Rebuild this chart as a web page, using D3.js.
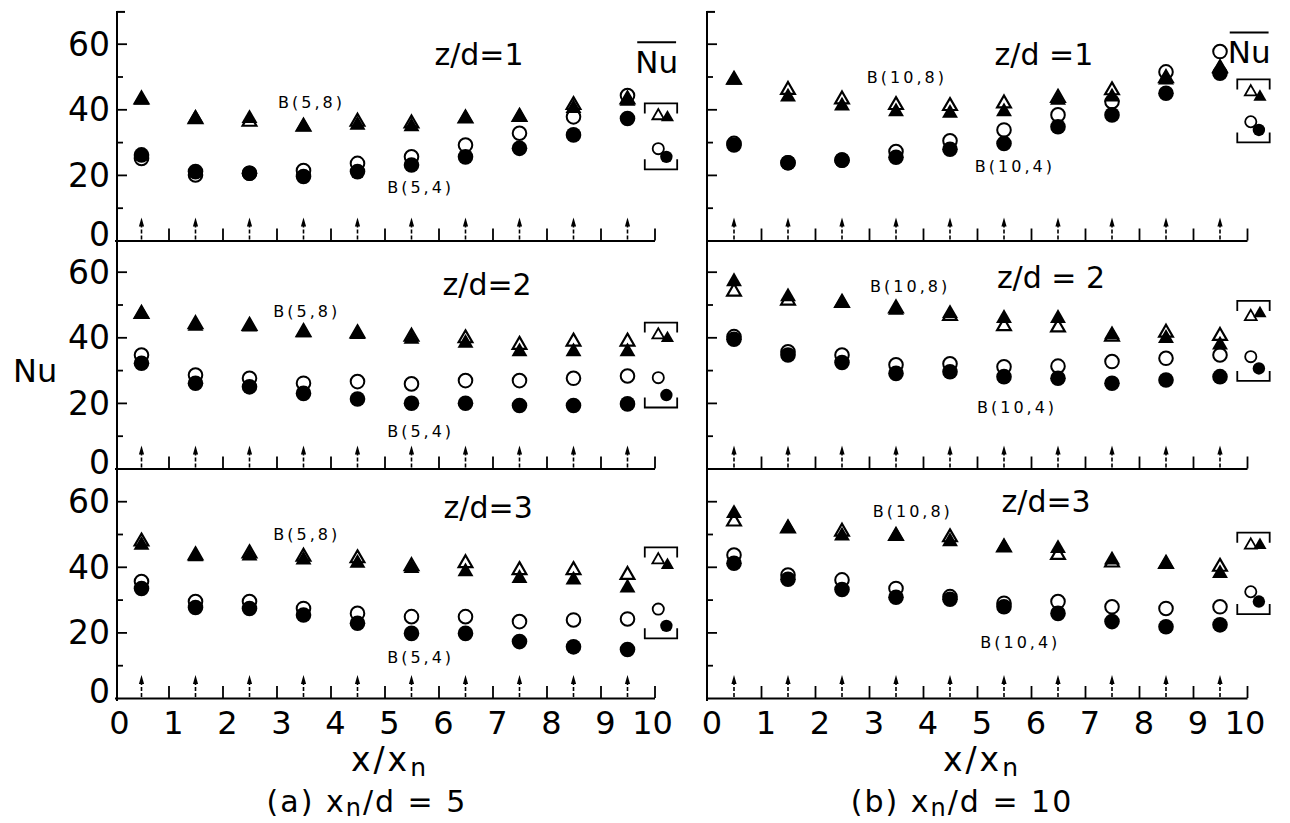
<!DOCTYPE html>
<html><head><meta charset="utf-8">
<script src="https://cdn.jsdelivr.net/npm/d3@7"></script>
<style>
body{margin:0;background:#fff}
svg{display:block}
text{font-family:"DejaVu Sans",sans-serif;fill:#000}
</style>
</head><body>
<svg id="c" width="1290" height="823"></svg>
<script>
// ---------------- data ----------------
const xPositions = [0.5, 1.5, 2.5, 3.5, 4.5, 5.5, 6.5, 7.5, 8.5, 9.5];
const xTickLabels = [0, 1, 2, 3, 4, 5, 6, 7, 8, 9, 10];
const yTickLabels = [0, 20, 40, 60];
const yMinorTicks = [10, 30, 50];

// (a) xn/d = 5
const a1OpenTri  = [43, 37, 36.2, 34.7, 36.2, 35.7, 37.2, 37.7, 41.3, 43];
const a1FillTri  = [42.8, 37.2, 37.2, 34.7, 35.2, 34.7, 37.2, 37.7, 40.3, 42.5];
const a1OpenCirc = [25, 20, 20.5, 21.3, 23.5, 25.5, 29.1, 32.7, 37.7, 44.2];
const a1FillCirc = [26.1, 21, 20.5, 19.5, 21, 23, 25.5, 28.1, 32.2, 37.2];
const a1NuBar    = [38, 37.5, 28, 25.5]; // open tri, filled tri, open circ, filled circ

const a2OpenTri  = [47.1, 44, 43.5, 41.6, 41.2, 40.2, 39.7, 37.7, 38.7, 38.7];
const a2FillTri  = [47.1, 43.4, 43.2, 41.4, 40.9, 39.4, 38.2, 35.6, 35.6, 35.6];
const a2OpenCirc = [34.6, 28.5, 27.5, 26, 26.5, 25.8, 26.8, 26.8, 27.5, 28.2];
const a2FillCirc = [32.1, 26, 24.9, 22.9, 21.2, 19.9, 19.9, 19.2, 19.2, 19.7];
const a2NuBar    = [40.7, 39.7, 27.7, 22.4];

const a3OpenTri  = [47.7, 43.5, 44.1, 43.1, 42.6, 40.2, 41.1, 39, 39, 37.5];
const a3FillTri  = [46.6, 43.1, 43.3, 42.1, 41.1, 39.5, 38.5, 36.5, 36, 33.6];
const a3OpenCirc = [35.5, 29.4, 29.4, 27.3, 25.8, 24.8, 24.8, 23.3, 23.8, 24.1];
const a3FillCirc = [33.4, 27.6, 27.3, 25.3, 22.8, 19.7, 19.7, 17.2, 15.6, 14.8];
const a3NuBar    = [42.1, 40.5, 27.1, 22];

// (b) xn/d = 10
const b1OpenTri  = [49, 45.9, 43, 41.3, 41, 41.8, 43.5, 45.8, 49.5, 52.5];
const b1FillTri  = [48.9, 43.8, 41, 39.3, 38.8, 39.3, 42.8, 43.8, 49, 52.5];
const b1OpenCirc = [29.6, 23.7, 24.5, 27.1, 30.4, 33.7, 38.3, 42.3, 51.4, 57.6];
const b1FillCirc = [29.1, 23.7, 24.5, 25.4, 27.8, 29.6, 34.7, 38.3, 44.9, 51];
const b1NuBar    = [45.3, 43.8, 36.2, 33.7];

const b2OpenTri  = [53.9, 51.2, 50.5, 48.8, 46.5, 43.4, 43, 40.2, 41.4, 40.4];
const b2FillTri  = [57, 52.4, 50.5, 48.3, 47.3, 45.8, 45.8, 40.8, 39.7, 37.7];
const b2OpenCirc = [40.2, 35.6, 34.6, 31.6, 31.9, 31, 31.2, 32.6, 33.6, 34.6];
const b2FillCirc = [39.4, 34.6, 32.3, 29, 29.5, 28, 27.5, 26, 27, 28];
const b2NuBar    = [46.3, 47.3, 34.1, 30.5];

const b3OpenTri  = [53.8, 51.7, 50.7, 49.4, 49, 45.9, 43.6, 41.3, 40.9, 40];
const b3FillTri  = [56.3, 51.7, 49.4, 49.4, 47.7, 45.9, 45.6, 42.1, 40.9, 38];
const b3OpenCirc = [43.6, 37.5, 36, 33.4, 30.9, 28.9, 29.4, 27.8, 27.3, 27.8];
const b3FillCirc = [41.1, 36.2, 33.1, 30.7, 30.1, 27.8, 25.8, 23.3, 21.7, 22.3];
const b3NuBar    = [46.6, 46.6, 32.4, 29.4];

const panelTitles = ["z/d=1", "z/d=2", "z/d=3", "z/d =1", "z/d = 2", "z/d=3"];
const upperLabels = ["B(5,8)", "B(5,8)", "B(5,8)", "B(10,8)", "B(10,8)", "B(10,8)"];
const lowerLabels = ["B(5,4)", "B(5,4)", "B(5,4)", "B(10,4)", "B(10,4)", "B(10,4)"];

// ---------------- layout ----------------
const svg = d3.select("#c");
const colX0 = [114.5, 707];
const axisX = [117, 707];
const rowBase = [240.5, 468.5, 698];
const pxX = 54, pxY = 3.28;

// annotation anchors (data units): title [x, y], upper label, lower label
const annot = [
  {t:[6.75,53.5], u:[3.03,40.4], l:[5.05,14.5]},
  {t:[6.9,52.9],  u:[2.94,46.2], l:[5.05,9.6]},
  {t:[6.92,54.9], u:[2.94,48.2], l:[5.05,10.7]},
  {t:[6.24,53.5], u:[2.96,48.0], l:[4.96,20.9]},
  {t:[6.37,55.0], u:[3.02,53.8], l:[5.0,16.9]},
  {t:[6.28,56.7], u:[3.07,55.2], l:[5.06,15.2]}
];

const panels = [
  {col:0,row:0, ot:a1OpenTri, ft:a1FillTri, oc:a1OpenCirc, fc:a1FillCirc, nb:a1NuBar},
  {col:0,row:1, ot:a2OpenTri, ft:a2FillTri, oc:a2OpenCirc, fc:a2FillCirc, nb:a2NuBar},
  {col:0,row:2, ot:a3OpenTri, ft:a3FillTri, oc:a3OpenCirc, fc:a3FillCirc, nb:a3NuBar},
  {col:1,row:0, ot:b1OpenTri, ft:b1FillTri, oc:b1OpenCirc, fc:b1FillCirc, nb:b1NuBar},
  {col:1,row:1, ot:b2OpenTri, ft:b2FillTri, oc:b2OpenCirc, fc:b2FillCirc, nb:b2NuBar},
  {col:1,row:2, ot:b3OpenTri, ft:b3FillTri, oc:b3OpenCirc, fc:b3FillCirc, nb:b3NuBar}
];

const triBig = d3.symbol().type(d3.symbolTriangle).size(110)();
const triOpen = d3.symbol().type(d3.symbolTriangle).size(82)();
const triNb = d3.symbol().type(d3.symbolTriangle).size(75)();
const triNbOpen = d3.symbol().type(d3.symbolTriangle).size(60)();

// continuous vertical axes per column
[0,1].forEach(c => {
  const yTop = rowBase[0] - 70*pxY;
  svg.append("line").attr("x1",axisX[c]).attr("x2",axisX[c])
     .attr("y1",yTop).attr("y2",rowBase[2]+3)
     .attr("stroke","#000").attr("stroke-width",2);
  svg.append("line").attr("x1",axisX[c]).attr("x2",axisX[c]+8)
     .attr("y1",yTop+1).attr("y2",yTop+1)
     .attr("stroke","#000").attr("stroke-width",2);
});

panels.forEach((p, i) => {
  const x0 = colX0[p.col], base = rowBase[p.row];
  const x = d3.scaleLinear().domain([0,10]).range([x0, x0 + 10*pxX]);
  const y = d3.scaleLinear().domain([0,60]).range([base, base - 60*pxY]);
  const g = svg.append("g");

  // x axis (ticks upward, inside)
  const xa = g.append("g").attr("transform",`translate(0,${base})`)
    .call(d3.axisTop(x).tickValues(d3.range(1,11)).tickSize(12).tickSizeOuter(0).tickFormat(""));
  xa.select(".domain").attr("stroke-width",2);
  xa.selectAll(".tick line").attr("stroke-width",1.8);

  // y axis ticks (inward)
  const ya = g.append("g").attr("transform",`translate(${axisX[p.col]},0)`)
    .call(d3.axisRight(y).tickValues([20,40,60]).tickSize(10).tickFormat(""));
  ya.select(".domain").remove();
  ya.selectAll(".tick line").attr("stroke-width",1.8);
  const ym = g.append("g").attr("transform",`translate(${axisX[p.col]},0)`)
    .call(d3.axisRight(y).tickValues(yMinorTicks).tickSize(6).tickFormat(""));
  ym.select(".domain").remove();
  ym.selectAll(".tick line").attr("stroke-width",1.8);

  if (p.col === 0) {
    g.selectAll(".ylab").data(yTickLabels).enter().append("text")
      .attr("x", 110).attr("y", d => y(d) + (d === 0 ? 5 : 12))
      .attr("text-anchor","end").attr("font-size",33).text(d => d);
  }

  // arrows at jet positions
  xPositions.forEach(xv => {
    const ax = x(xv);
    g.append("line").attr("x1",ax).attr("x2",ax).attr("y1",base-1).attr("y2",base-15)
      .attr("stroke","#000").attr("stroke-width",1.6).attr("stroke-dasharray","4,2");
    g.append("path").attr("d",`M${ax},${base-23}L${ax-2.6},${base-14}L${ax+2.6},${base-14}Z`).attr("fill","#000");
  });

  // markers
  g.selectAll(".oc").data(p.oc).enter().append("circle")
    .attr("cx",(d,j)=>x(xPositions[j])).attr("cy",d=>y(d)).attr("r",6.8)
    .attr("fill","#fff").attr("stroke","#000").attr("stroke-width",2);
  g.selectAll(".ot").data(p.ot).enter().append("path")
    .attr("d",triOpen).attr("transform",(d,j)=>`translate(${x(xPositions[j])},${y(d)})`)
    .attr("fill","#fff").attr("stroke","#000").attr("stroke-width",2.2);
  g.selectAll(".fc").data(p.fc).enter().append("circle")
    .attr("cx",(d,j)=>x(xPositions[j])).attr("cy",d=>y(d)).attr("r",7.8).attr("fill","#000");
  g.selectAll(".ft").data(p.ft).enter().append("path")
    .attr("d",triBig).attr("transform",(d,j)=>`translate(${x(xPositions[j])},${y(d)})`)
    .attr("fill","#000");

  // Nu-bar group with brackets
  const [nbOT, nbFT, nbOC, nbFC] = p.nb;
  const bx1 = x(9.82), bx2 = x(10.42);
  const topB = y(Math.max(nbOT, nbFT) + 3.8), botB = y(Math.min(nbOC, nbFC) - 3.8);
  g.append("path").attr("d",`M${bx1},${topB+10}V${topB}H${bx2}V${topB+10}`)
    .attr("fill","none").attr("stroke","#000").attr("stroke-width",1.8);
  g.append("path").attr("d",`M${bx1},${botB-10}V${botB}H${bx2}V${botB-10}`)
    .attr("fill","none").attr("stroke","#000").attr("stroke-width",1.8);
  g.append("circle").attr("cx",x(10.07)).attr("cy",y(nbOC)).attr("r",5.6)
    .attr("fill","#fff").attr("stroke","#000").attr("stroke-width",1.8);
  g.append("circle").attr("cx",x(10.22)).attr("cy",y(nbFC)).attr("r",6.2).attr("fill","#000");
  g.append("path").attr("d",triNbOpen).attr("transform",`translate(${x(10.07)},${y(nbOT)})`)
    .attr("fill","#fff").attr("stroke","#000").attr("stroke-width",1.8);
  g.append("path").attr("d",triNb).attr("transform",`translate(${x(10.24)},${y(nbFT)})`)
    .attr("fill","#000");

  // annotations
  const a = annot[i];
  g.append("text").attr("x",x(a.t[0])).attr("y",y(a.t[1])).attr("text-anchor","middle")
    .attr("font-size",30).text(panelTitles[i]);
  g.append("text").attr("x",x(a.u[0])).attr("y",y(a.u[1])).attr("font-size",16)
    .attr("letter-spacing",3).text(upperLabels[i]);
  g.append("text").attr("x",x(a.l[0])).attr("y",y(a.l[1])).attr("font-size",16)
    .attr("letter-spacing",3).text(lowerLabels[i]);

  // Nu-bar header on top panels
  if (p.row === 0) {
    const hy = p.col === 0 ? y(51) : y(54);
    const t = g.append("text").attr("x",x(10.04)).attr("y",hy).attr("text-anchor","middle")
      .attr("font-size",31).text("Nu");
    const bb = t.node().getBBox();
    g.append("line").attr("x1",bb.x+2).attr("x2",bb.x+bb.width-2)
      .attr("y1",hy-31).attr("y2",hy-31).attr("stroke","#000").attr("stroke-width",2);
  }

  // x tick labels on bottom row
  if (p.row === 2) {
    g.selectAll(".xl").data(xTickLabels).enter().append("text")
      .attr("x", d => x(d) + (d === 10 ? -2 : 5)).attr("y", base + 36)
      .attr("text-anchor","middle").attr("font-size",32).text(d => d);
  }
});

// axis titles
svg.append("text").attr("x",13).attr("y",382).attr("font-size",32).text("Nu");

[[390,"(a)","5",367],[982,"(b)","10",962]].forEach(([cx,tag,val,cx2]) => {
  const t = svg.append("text").attr("x",cx).attr("y",771).attr("text-anchor","middle")
    .attr("font-size",33).attr("letter-spacing",3);
  t.append("tspan").text("x/x");
  t.append("tspan").attr("dy",5).attr("font-size",25).text("n");
  const c = svg.append("text").attr("x",cx2).attr("y",812).attr("text-anchor","middle")
    .attr("font-size",30).attr("letter-spacing",2);
  c.append("tspan").text(tag + " x");
  c.append("tspan").attr("dy",4).attr("font-size",24).text("n");
  c.append("tspan").attr("dy",-4).text("/d = " + val);
});
</script>
</body></html>
